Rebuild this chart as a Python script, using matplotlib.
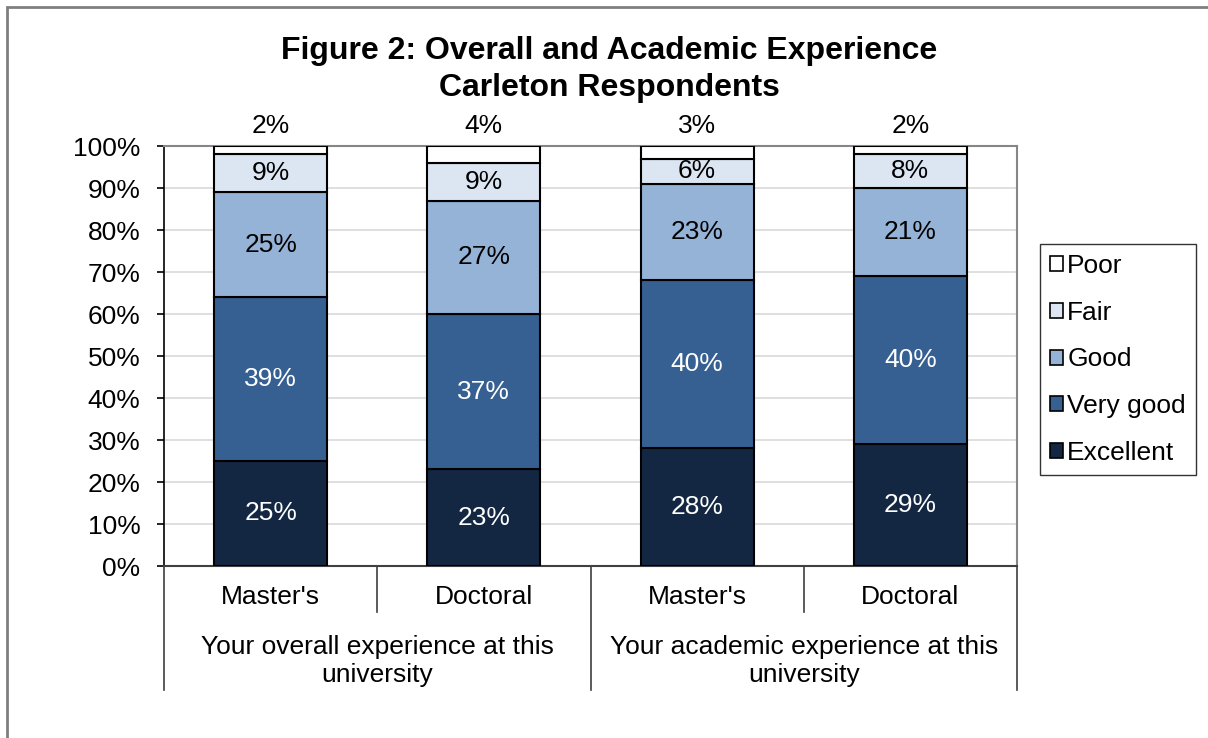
import matplotlib.pyplot as plt
import matplotlib.patches as mpatches
import numpy as np

plt.rcParams['font.family'] = ['Liberation Sans', 'DejaVu Sans']

# data
groups = ["Your overall experience at this\nuniversity",
          "Your academic experience at this\nuniversity"]
levels = ["Master's", "Doctoral", "Master's", "Doctoral"]
ratings = ["Excellent", "Very good", "Good", "Fair", "Poor"]
excellent = [25, 23, 28, 29]
very_good = [39, 37, 40, 40]
good = [25, 27, 23, 21]
fair = [9, 9, 6, 8]
poor = [2, 4, 3, 2]
colors = ["#132743", "#366092", "#95B3D7", "#DCE6F2", "#FFFFFF"]
text_colors = ["white", "white", "black", "black", "black"]

FS = 19

fig = plt.figure(figsize=(12.08, 7.38), dpi=100)
ax = fig.add_axes([164/1208, 1-566/738, 853/1208, 420/738])

x = np.arange(len(levels))
series = [excellent, very_good, good, fair, poor]
bottom = np.zeros(len(levels))
for i, vals in enumerate(series):
    vals = np.array(vals, dtype=float)
    bars = ax.bar(x, vals, 0.53, bottom=bottom, color=colors[i],
                  edgecolor="black", linewidth=1.5, label=ratings[i], zorder=3)
    for j, b in enumerate(bars):
        if ratings[i] == "Poor":
            # poor share is shown above the bar
            ax.annotate(f"{int(vals[j])}%", (x[j], bottom[j] + vals[j]),
                        xytext=(0, 8), textcoords="offset pixels",
                        ha="center", va="bottom", fontsize=FS, color="black",
                        annotation_clip=False)
        else:
            ax.text(x[j], bottom[j] + vals[j] / 2, f"{int(vals[j])}%",
                    ha="center", va="center", fontsize=FS, color=text_colors[i],
                    zorder=4)
    bottom += vals

ax.set_xlim(-0.5, 3.5)
ax.set_ylim(0, 100)
ax.set_yticks(np.arange(0, 101, 10))
ax.set_yticklabels([f"{v}%" for v in range(0, 101, 10)], fontsize=FS)
ax.yaxis.grid(True, color="#D9D9D9", linewidth=1.2, zorder=0)
ax.set_axisbelow(True)
ax.tick_params(axis="y", direction="out", length=5, width=1.2, pad=12)
ax.set_xticks([])
for s in ["top", "right"]:
    ax.spines[s].set_color("#868686")
    ax.spines[s].set_linewidth(1.5)
ax.spines["left"].set_color("black")
ax.spines["left"].set_linewidth(1.2)
ax.spines["bottom"].set_color("#404040")
ax.spines["bottom"].set_linewidth(1.5)

# multi-level category axis
tr = ax.get_xaxis_transform()
for j, lab in enumerate(levels):
    ax.text(x[j], -0.074, lab, transform=tr, ha="center", va="center", fontsize=FS)
for g, lab in enumerate(groups):
    ax.text(2 * g + 0.5, -0.226, lab, transform=tr, ha="center", va="center",
            fontsize=FS, linespacing=1.25)
for xe in [-0.5, 1.5, 3.5]:
    ax.plot([xe, xe], [0, -0.295], transform=tr, color="#404040", lw=1.2, clip_on=False)
for xe in [0.5, 2.5]:
    ax.plot([xe, xe], [0, -0.11], transform=tr, color="#404040", lw=1.2, clip_on=False)

# legend (Poor on top)
h, l = ax.get_legend_handles_labels()
leg = fig.legend(h[::-1], l[::-1], loc="center left",
                 bbox_to_anchor=(1040/1208, 1-359.5/738), fontsize=FS,
                 frameon=True, fancybox=False, edgecolor="black",
                 handlelength=0.5, handleheight=0.5, handletextpad=0.15,
                 labelspacing=0.86, borderpad=0.38, borderaxespad=0)
leg.get_frame().set_linewidth(1.0)
for p in leg.get_patches():
    p.set_linewidth(1.2)

fig.text(609/1208, 1-69.5/738, "Figure 2: Overall and Academic Experience\nCarleton Respondents",
         ha="center", va="center", fontsize=23, fontweight="bold", linespacing=1.3)

# outer chart border
fig.patches.append(mpatches.Rectangle((7/1208, -0.02), 1.02, 1.02 - 7/738,
                                      transform=fig.transFigure, fill=False,
                                      edgecolor="#7F7F7F", linewidth=2))

fig.savefig("out.png", dpi=100)
